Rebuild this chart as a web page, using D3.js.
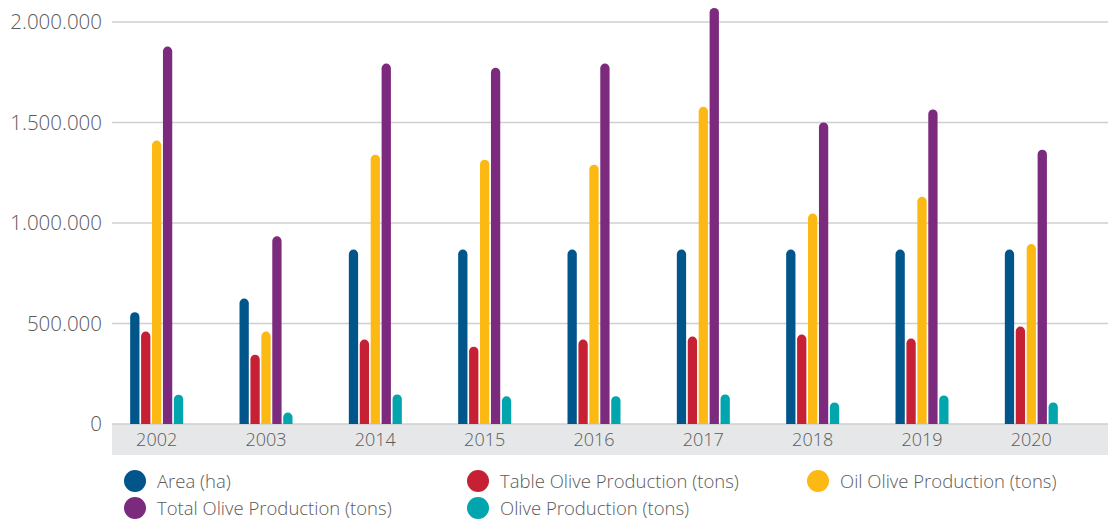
<!DOCTYPE html>
<html>
<head>
<meta charset="utf-8">
<script src="https://cdn.jsdelivr.net/npm/d3@7"></script>
<style>
  body { margin: 0; background: #fff; }
  text { font-family: "Open Sans", "Noto Sans", sans-serif; font-weight: 300; fill: #5a5a5a; }
</style>
</head>
<body>
<div id="app"></div>
<script>
const years = ['2002', '2003', '2014', '2015', '2016', '2017', '2018', '2019', '2020'];
const seriesNames = ['Area (ha)', 'Table Olive Production (tons)', 'Oil Olive Production (tons)',
    'Total Olive Production (tons)', 'Olive Production (tons)'];
const seriesColors = ['#00558a', '#c52033', '#fdb913', '#7b2a7d', '#00a5ad'];
const area = [556000, 624000, 868000, 868000, 868000, 868000, 868000, 868000, 868000];
const tableOlive = [460000, 345000, 420000, 385000, 420000, 435000, 445000, 425000, 485000];
const oilOlive = [1410000, 460000, 1340000, 1315000, 1290000, 1578000, 1047000, 1130000, 895000];
const totalOlive = [1878000, 934000, 1793000, 1772000, 1793000, 2070000, 1500000, 1565000, 1365000];
const oliveProd = [146000, 57000, 147000, 138000, 138000, 147000, 107000, 142000, 107000];
const yTicks = [0, 500000, 1000000, 1500000, 2000000];

const series = [area, tableOlive, oilOlive, totalOlive, oliveProd];

const width = 1108, height = 522;
const svg = d3.select('#app').append('svg').attr('width', width).attr('height', height);

const y = d3.scaleLinear().domain([0, 2000000]).range([424, 22]);
const x = d3.scaleBand().domain(years).range([102, 1086]);
const inner = d3.scaleBand().domain(d3.range(series.length)).range([-26.5, 26.5]).paddingInner(0.15);

const fmt = d => d3.format(',')(d).replace(/,/g, '.');

// gray band under axis
svg.append('rect').attr('x', 112).attr('y', y(0)).attr('width', width - 112).attr('height', 31)
    .attr('fill', '#e6e7e8');

// grid lines + tick labels
svg.selectAll('line.grid').data(yTicks).join('line')
    .attr('class', 'grid')
    .attr('x1', 112).attr('x2', width)
    .attr('y1', d => y(d)).attr('y2', d => y(d))
    .attr('stroke', '#cfcfcf').attr('stroke-width', 1.5);

svg.selectAll('text.ytick').data(yTicks).join('text')
    .attr('class', 'ytick')
    .attr('x', 102).attr('y', d => y(d) + 7)
    .attr('text-anchor', 'end')
    .style('font-size', '20.5px')
    .text(fmt);

// bars with rounded top
const barPath = (x0, w, top, bottom) => {
    const r = w / 2;
    return `M${x0},${bottom}V${top + r}A${r},${r} 0 0 1 ${x0 + w},${top + r}V${bottom}Z`;
};

series.forEach((vals, si) => {
    svg.append('g').selectAll('path').data(vals).join('path')
        .attr('fill', seriesColors[si])
        .attr('d', (d, i) => {
            const cx = x(years[i]) + x.bandwidth() / 2;
            return barPath(cx + inner(si), inner.bandwidth(), y(d), y(0));
        });
});

// year labels
svg.selectAll('text.year').data(years).join('text')
    .attr('class', 'year')
    .attr('x', d => x(d) + x.bandwidth() / 2)
    .attr('y', y(0) + 22)
    .attr('text-anchor', 'middle')
    .style('font-size', '18px')
    .text(d => d);

// legend
const legendPos = [[135, 481], [478, 481], [818, 481], [135, 508], [478, 508]];
const legend = svg.append('g').selectAll('g').data(seriesNames).join('g')
    .attr('transform', (d, i) => `translate(${legendPos[i][0]},${legendPos[i][1]})`);
legend.append('circle').attr('r', 11).attr('fill', (d, i) => seriesColors[i]);
legend.append('text').attr('x', 22).attr('y', 7)
    .style('font-size', '18.5px')
    .text(d => d);
</script>
</body>
</html>
